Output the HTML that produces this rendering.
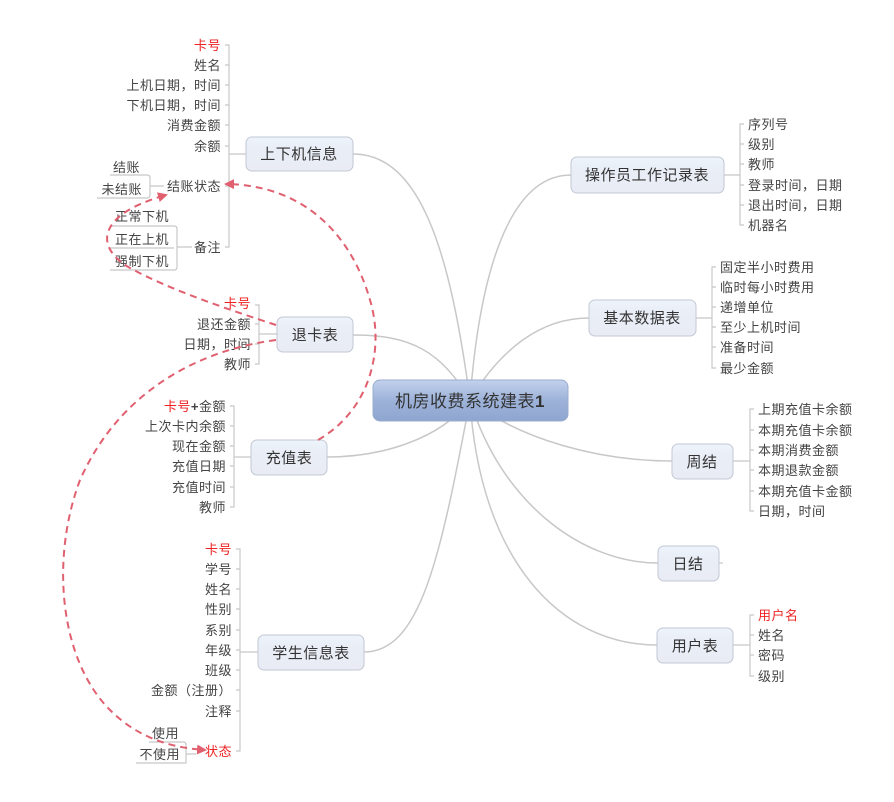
<!DOCTYPE html>
<html><head><meta charset="utf-8"><style>
html,body{margin:0;padding:0;background:#fff;width:894px;height:802px;overflow:hidden}
svg text{font-family:"Liberation Sans","Noto Sans CJK SC",sans-serif;font-size:13px;fill:#444;letter-spacing:0.5px}
.r{text-anchor:end}
.red{fill:#ee2222}
.n{font-size:15px;fill:#333;text-anchor:middle}
</style></head><body>
<svg width="894" height="802" viewBox="0 0 894 802" xmlns="http://www.w3.org/2000/svg">
<defs>
<linearGradient id="g1" x1="0" y1="0" x2="0" y2="1"><stop offset="0" stop-color="#eef4fc"/><stop offset="0.3" stop-color="#e9eef7"/><stop offset="1" stop-color="#e9ecf4"/></linearGradient>
<linearGradient id="g2" x1="0" y1="0" x2="0" y2="1"><stop offset="0" stop-color="#c3d2ec"/><stop offset="0.5" stop-color="#9db2d9"/><stop offset="1" stop-color="#8ea6d0"/></linearGradient>
<marker id="ar" markerWidth="10" markerHeight="10" refX="8" refY="5" orient="auto" markerUnits="userSpaceOnUse"><path d="M0,0 L10,5 L0,10 z" fill="#e06070"/></marker>
</defs>
<g fill="none" stroke="#c8c8c8" stroke-width="1.5">
<path d="M470,400 C450,250 420,154 353,154"/>
<path d="M470,400 C480,270 510,175 571,175"/>
<path d="M470,400 C440,350 410,335 353,335"/>
<path d="M470,400 C500,350 540,318 589,318"/>
<path d="M470,400 C440,440 380,457 327,457"/>
<path d="M470,400 C520,440 600,461 672,461"/>
<path d="M470,400 C500,500 580,563 658,563"/>
<path d="M470,400 C440,560 420,652 364,652"/>
<path d="M470,400 C480,560 560,645 657,645"/>
</g>
<g fill="none" stroke="#c8c8c8" stroke-width="1.2">
<path d="M225,45 h4 v202 h-4 M225,65h4 M225,85h4 M225,105h4 M225,125h4 M225,146h4 M225,186h4 M229,154h17"/>
<path d="M97,198 h50 q3,0 3,-3 v-17 q0,-3 -3,-3 h-37 M150,186h14"/>
<path d="M110,226 h64 q3,0 3,3 v38 q0,3 -3,3 h-64 M177,247h15 M110,248h64"/>
<path d="M255,305 h4 v59 h-4 M255,324h4 M255,344h4 M259,334h18"/>
<path d="M230,406 h4 v101 h-4 M230,426h4 M230,446h4 M230,466h4 M230,487h4 M234,457h17"/>
<path d="M236,549 h4 v202 h-4 M236,569h4 M236,589h4 M236,609h4 M236,630h4 M236,650h4 M236,670h4 M236,690h4 M236,711h4 M240,652h18"/>
<path d="M136,763 h50 v-18 q0,-3 -3,-3 h-34 M186,754h10"/>
<path d="M744,124 h-4 v101 h4 M744,144h-4 M744,164h-4 M744,185h-4 M744,205h-4 M724,175h16"/>
<path d="M716,267 h-4 v101 h4 M716,287h-4 M716,307h-4 M716,327h-4 M716,347h-4 M696,318h16"/>
<path d="M754,409 h-4 v102 h4 M754,430h-4 M754,450h-4 M754,470h-4 M754,491h-4 M733,461h17"/>
<path d="M754,615 h-4 v61 h4 M754,635h-4 M754,655h-4 M733,645h17"/>
<path d="M719,563 h4"/>
</g>
<g stroke="#c2c8d4" stroke-width="1">
<rect x="246" y="137" width="107" height="34" rx="6" fill="url(#g1)"/>
<rect x="571" y="157" width="153" height="36" rx="6" fill="url(#g1)"/>
<rect x="277" y="317" width="76" height="35" rx="6" fill="url(#g1)"/>
<rect x="589" y="300" width="107" height="36" rx="6" fill="url(#g1)"/>
<rect x="373" y="380" width="195" height="41" rx="7" fill="url(#g2)" stroke="#9aaccc"/>
<rect x="251" y="440" width="76" height="35" rx="6" fill="url(#g1)"/>
<rect x="672" y="444" width="61" height="35" rx="6" fill="url(#g1)"/>
<rect x="658" y="546" width="61" height="35" rx="6" fill="url(#g1)"/>
<rect x="258" y="635" width="106" height="35" rx="6" fill="url(#g1)"/>
<rect x="657" y="628" width="76" height="35" rx="6" fill="url(#g1)"/>
</g>
<text class="n" x="299" y="159">上下机信息</text>
<text class="n" x="647" y="180">操作员工作记录表</text>
<text class="n" x="315" y="340">退卡表</text>
<text class="n" x="642" y="323">基本数据表</text>
<text class="n" x="470" y="407" style="font-size:17px;fill:#333">机房收费系统建表<tspan style="font-weight:bold">1</tspan></text>
<text class="n" x="289" y="463">充值表</text>
<text class="n" x="702" y="467">周结</text>
<text class="n" x="688" y="569">日结</text>
<text class="n" x="311" y="658">学生信息表</text>
<text class="n" x="695" y="651">用户表</text>
<text class="r red" x="221" y="50">卡号</text>
<text class="r" x="221" y="70">姓名</text>
<text class="r" x="221" y="90">上机日期，时间</text>
<text class="r" x="221" y="110">下机日期，时间</text>
<text class="r" x="221" y="130">消费金额</text>
<text class="r" x="221" y="151">余额</text>
<text class="r" x="221" y="191">结账状态</text>
<text class="r" x="221" y="252">备注</text>
<text class="r" x="140" y="172">结账</text>
<text class="r" x="142" y="194">未结账</text>
<text class="r" x="169" y="221">正常下机</text>
<text class="r" x="169" y="244">正在上机</text>
<text class="r" x="169" y="266">强制下机</text>
<text class="r red" x="251" y="308">卡号</text>
<text class="r" x="251" y="329">退还金额</text>
<text class="r" x="251" y="349">日期，时间</text>
<text class="r" x="251" y="369">教师</text>
<text class="r" x="226" y="411"><tspan class="red">卡号</tspan><tspan style="font-weight:bold">+</tspan>金额</text>
<text class="r" x="226" y="431">上次卡内余额</text>
<text class="r" x="226" y="451">现在金额</text>
<text class="r" x="226" y="471">充值日期</text>
<text class="r" x="226" y="492">充值时间</text>
<text class="r" x="226" y="512">教师</text>
<text class="r red" x="232" y="554">卡号</text>
<text class="r" x="232" y="574">学号</text>
<text class="r" x="232" y="594">姓名</text>
<text class="r" x="232" y="614">性别</text>
<text class="r" x="232" y="635">系别</text>
<text class="r" x="232" y="655">年级</text>
<text class="r" x="232" y="675">班级</text>
<text class="r" x="232" y="695">金额（注册）</text>
<text class="r" x="232" y="716">注释</text>
<text class="r red" x="232" y="756">状态</text>
<text class="r" x="179" y="738">使用</text>
<text class="r" x="180" y="759">不使用</text>
<text x="748" y="129">序列号</text>
<text x="748" y="149">级别</text>
<text x="748" y="169">教师</text>
<text x="748" y="190">登录时间，日期</text>
<text x="748" y="210">退出时间，日期</text>
<text x="748" y="230">机器名</text>
<text x="720" y="272">固定半小时费用</text>
<text x="720" y="292">临时每小时费用</text>
<text x="720" y="312">递增单位</text>
<text x="720" y="332">至少上机时间</text>
<text x="720" y="352">准备时间</text>
<text x="720" y="373">最少金额</text>
<text x="758" y="414">上期充值卡余额</text>
<text x="758" y="435">本期充值卡余额</text>
<text x="758" y="455">本期消费金额</text>
<text x="758" y="475">本期退款金额</text>
<text x="758" y="496">本期充值卡金额</text>
<text x="758" y="516">日期，时间</text>
<text class="red" x="758" y="620">用户名</text>
<text x="758" y="640">姓名</text>
<text x="758" y="660">密码</text>
<text x="758" y="681">级别</text>
<g fill="none" stroke="#e06070" stroke-width="2" stroke-dasharray="7,5">
<path d="M276,325 C230,310 170,290 130,268 C95,248 95,215 166,195" marker-end="url(#ar)"/>
<path d="M318,440 C370,410 385,350 370,300 C350,230 300,185 226,184" marker-end="url(#ar)"/>
<path d="M276,340 C200,350 120,390 80,480 C50,560 60,660 110,710 C140,740 175,748 205,750" marker-end="url(#ar)"/>
</g>
</svg>
</body></html>
